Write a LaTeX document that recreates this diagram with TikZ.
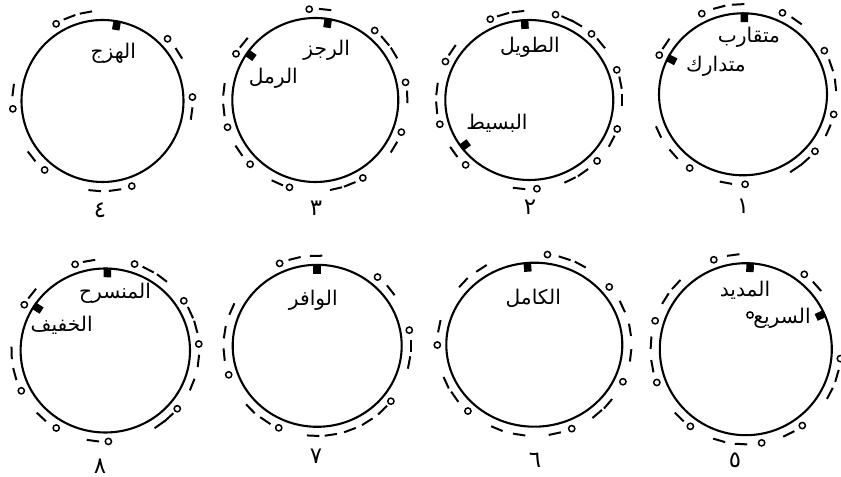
\documentclass[tikz,border=0pt]{standalone}
\usepackage{fontspec}
\newfontfamily\arabicfont[Script=Arabic]{DejaVu Sans}
\TeXXeTstate=1
\usetikzlibrary{calc}

\newcommand{\daira}[7]{%
  \coordinate (#1) at #2;
  \draw [circ] (#1) ellipse [x radius=#3, y radius=#4];
  \pgfmathsetmacro{\RX}{#3+9}
  \pgfmathsetmacro{\RY}{#4+9}
  \pgfmathsetmacro{\SX}{#3-4}
  \pgfmathsetmacro{\SY}{#4-4}
  \foreach \a [count=\i] in {#5}
    \node [sakin] (#1s\i) at ($(#1)+({\RX*cos(\a)},{\RY*sin(\a)})$) {};
  \foreach \a [count=\i] in {#6}
    \node [haraka, rotate=\a-90] (#1h\i) at ($(#1)+({\RX*cos(\a)},{\RY*sin(\a)})$) {};
  \foreach \a [count=\i] in {#7}
    \node [mabda, rotate=\a-90] (#1m\i) at ($(#1)+({\SX*cos(\a)},{\SY*sin(\a)})$) {};
}

\begin{document}
\begin{tikzpicture}[x=0.2mm, y=0.2mm]

\tikzset{
  circ/.style={line width=0.42mm},
  sakin/.style={draw, circle, line width=0.3mm, minimum size=1.25mm, inner sep=0},
  haraka/.style={fill, rectangle, minimum width=2.5mm, minimum height=0.4mm, inner sep=0},
  mabda/.style={fill, rectangle, minimum width=1.5mm, minimum height=1.9mm, inner sep=0},
  bahr/.style={font=\arabicfont\fontsize{11.5}{13}\selectfont, inner sep=0},
  raqm/.style={font=\arabicfont\fontsize{13}{15}\selectfont, inner sep=0},
}

\useasboundingbox (0,0) rectangle (841,477);

% upper row
\daira{C1}{(743,382.7)}{84}{81}
  {116.3, 154.2, 235, 271.3, -39.3, -12.9, 29, 64.9}
  {93, 104.8, 145.9, 204.8, 221.7, 259.4, -55.8, -48.1, -23.6, 6, 18.8, 54.8}
  {89, 153.3}
\daira{C2}{(529.3,377)}{84}{80}
  {114.8, 73.6, 48, 19.8, -19, -43.2, -85.3, 226.8, 195.8, 154.4}
  {106.4, 97, 66, 59.4, 39.5, 11.2, 0, -27.6, -54.7, -64, 263.7, 215.7, 185, 172.9, 146}
  {93.2, 216.4}
\daira{C3}{(315.3,377)}{83}{82}
  {93.8, 49.8, 11.2, -20.7, -58.9, 253.7, 224.9, 197.4, 149.5}
  {83.9, 40.6, 31.1, 2, -31.2, -68, -77, 245.6, 213.9, 186.3, 173.3, 141}
  {81, 145}
\daira{C4}{(102.5,376)}{81}{81}
  {121, 43.7, 2.5, 289, 230, 185}
  {111.5, 100.6, 32, 352, 278, 265, 218, 173}
  {79.5}

% lower row
\daira{C5}{(745.8,127.8)}{86}{86}
  {109.7, 52, -5.7, -53.5, -80.4, 234.3, 200.5, 162.6}
  {97.6, 41.4, -16.3, -27.7, -63.1, -92.9, -106.3, 225.5, 190.3, 176.1, 147.8, 137.1}
  {87, 24.3}
\daira{C6}{(534.3,132.3)}{88}{82}
  {82.2, 39.4, -24, -67.3, 226.8, 180.2}
  {123, 137, 168.3, 204.7, 214.9, 247.3, 261, -77.8, -49.6, -40.5, -6.7, 9.4, 24.8, 61.7, 71.8}
  {94.6}
\daira{C7}{(317.2,131.2)}{84.5}{81}
  {113.7, 49.8, 10, -38, 245.7, 198.8}
  {104, 90.7, 38.1, 0, -10.7, -45.6, -57.6, -69.5, -81.6, -92.5, 236.3, 224.4, 185.6, 171.3, 155.9}
  {90}
\daira{C8}{(105.3,126.5)}{84.7}{82}
  {108.8, 71.8, 33.1, 4.1, -39.8, -88.1, 238.4, 206.3, 149.8}
  {100, 62.8, 52.8, 24.6, 15.1, -6.6, -22, -47.4, -54.5, -97.6, 226.9, 195, 181.5, 141.3}
  {88.5, 147}

\node [bahr] (mutaqarib) at (749,440) {\beginR متقارب\endR};
\node [bahr] (mutadarik) at (716,411) {\beginR متدارك\endR};
\node [bahr] (tawil) at (530,430) {\beginR الطويل\endR};
\node [bahr] (basit) at (497,354) {\beginR البسيط\endR};
\node [bahr] (rajaz) at (326.7,427) {\beginR الرجز\endR};
\node [bahr] (ramal) at (273.3,398.7) {\beginR الرمل\endR};
\node [bahr] (hazaj) at (113.3,423.7) {\beginR الهزج\endR};

\node [bahr] (madid) at (745,187) {\beginR المديد\endR};
\node [bahr] (sari) at (782,158.7) {\beginR السريع\endR};
\node [sakin] (sarimark) at (750,162) {};
\node [bahr] (kamil) at (533.3,178.7) {\beginR الكامل\endR};
\node [bahr] (wafir) at (313.3,177) {\beginR الوافر\endR};
\node [bahr] (munsarih) at (115,183.7) {\beginR المنسرح\endR};
\node [bahr] (khafif) at (61.7,152) {\beginR الخفيف\endR};

\node [raqm] (n1) at (743,271) {١};
\node [raqm] (n2) at (530,270) {٢};
\node [raqm] (n3) at (316,269) {٣};
\node [raqm] (n4) at (100,266.3) {٤};
\node [raqm] (n5) at (735,17) {٥};
\node [raqm] (n6) at (535,17) {٦};
\node [raqm] (n7) at (316,21) {٧};
\node [raqm] (n8) at (100,11) {٨};

\end{tikzpicture}
\end{document}
